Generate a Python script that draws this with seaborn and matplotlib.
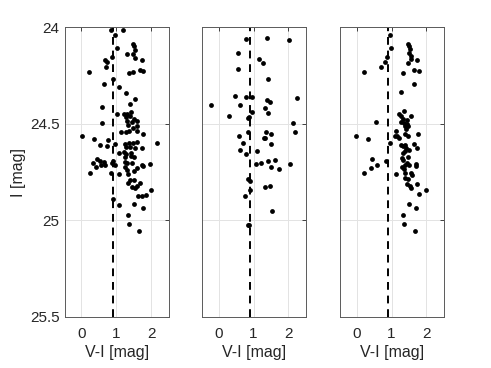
import numpy as np
import pandas as pd
import matplotlib
matplotlib.use("Agg")
import matplotlib.pyplot as plt
import seaborn as sns

# === colour (V-I) and magnitude (I) per panel ===
p1_vi = [0.86, 1.18, 0.97, 1.01, 1.48, 1.50, 1.54, 1.48, 1.30, 1.53, 0.88, 0.67, 0.74, 0.70, 0.22,
         1.36, 1.47, 1.73, 1.78, 1.69, 0.92, 0.65, 1.07, 1.29, 1.53, 0.59, 1.38, 1.01, 1.21, 1.30,
         1.41, 1.39, 1.28, 1.32, 1.50, 0.59, 1.44, 1.58, 1.34, 1.49, 1.59, 1.36, 1.59, 1.13, 1.27,
         1.77, 0.03, 0.36, 0.75, 0.97, 0.54, 0.73, 1.25, 1.37, 1.48, 1.60, 1.29, 1.38, 1.53, 1.73,
         2.18, 1.08, 1.21, 1.29, 1.43, 1.24, 1.43, 1.51, 0.45, 0.52, 0.64, 0.34, 0.69, 0.88, 0.92,
         0.97, 1.25, 1.30, 1.45, 1.73, 1.76, 1.98, 0.43, 0.57, 0.85, 1.09, 1.24, 1.30, 1.34, 1.50,
         1.58, 1.39, 1.50, 1.69, 1.35, 1.59, 1.53, 1.44, 0.25, 0.90, 1.07, 1.52, 1.85, 1.75, 2.00,
         1.63, 1.78, 1.35, 1.37, 1.66]
p1_i = [24.014, 24.014, 24.043, 24.109, 24.086, 24.100, 24.117, 24.140, 24.140, 24.160, 24.155,
        24.169, 24.179, 24.209, 24.231, 24.238, 24.233, 24.172, 24.226, 24.224, 24.269, 24.293,
        24.312, 24.340, 24.372, 24.414, 24.398, 24.452, 24.452, 24.448, 24.440, 24.460, 24.467,
        24.484, 24.474, 24.497, 24.493, 24.488, 24.507, 24.521, 24.510, 24.536, 24.540, 24.543,
        24.545, 24.555, 24.564, 24.579, 24.586, 24.603, 24.612, 24.617, 24.605, 24.600, 24.600,
        24.595, 24.621, 24.622, 24.626, 24.628, 24.600, 24.650, 24.647, 24.655, 24.652, 24.672,
        24.669, 24.674, 24.683, 24.691, 24.700, 24.705, 24.716, 24.703, 24.693, 24.716, 24.700,
        24.703, 24.705, 24.716, 24.717, 24.709, 24.726, 24.714, 24.755, 24.759, 24.724, 24.741,
        24.759, 24.747, 24.729, 24.790, 24.791, 24.805, 24.807, 24.821, 24.833, 24.828, 24.757,
        24.888, 24.921, 24.914, 24.867, 24.876, 24.845, 24.872, 24.938, 24.971, 25.019, 25.055]

p2_vi = [0.78, 1.38, 2.01, 0.56, 1.17, 1.26, 0.54, 1.40, 0.48, 0.78, 0.95, 2.24, -0.22, 0.62,
         1.38, 1.47, 1.34, 1.41, 0.95, 0.29, 0.84, 0.88, 2.12, 2.18, 0.83, 0.57, 1.37, 1.49,
         1.29, 1.34, 1.49, 0.71, 0.62, 0.79, 1.09, 1.07, 1.22, 1.41, 1.62, 1.51, 1.73, 2.05,
         0.83, 0.90, 0.90, 0.76, 1.32, 1.47, 1.54, 0.84, 0.88]
p2_i = [24.064, 24.057, 24.066, 24.136, 24.164, 24.186, 24.219, 24.269, 24.359, 24.364, 24.362,
        24.366, 24.405, 24.405, 24.379, 24.388, 24.419, 24.447, 24.438, 24.460, 24.472, 24.466,
        24.497, 24.541, 24.543, 24.564, 24.541, 24.552, 24.574, 24.574, 24.603, 24.602, 24.638,
        24.655, 24.640, 24.709, 24.703, 24.693, 24.688, 24.722, 24.733, 24.709, 24.784, 24.797,
        24.845, 24.876, 24.829, 24.824, 24.952, 25.022, 25.026]

p3_vi = [0.95, 0.99, 1.46, 1.50, 1.54, 1.50, 1.56, 1.57, 1.72, 1.47, 0.87, 0.80, 0.70, 1.65,
         1.79, 1.34, 0.21, 1.63, 1.27, 1.35, 1.21, 1.28, 1.56, 1.32, 1.44, 1.27, 1.37, 1.44,
         0.56, 1.38, 1.47, 1.13, 1.41, 1.16, 1.11, 1.22, 1.40, 1.46, 1.75, -0.02, 0.33, 0.96,
         1.26, 1.38, 1.32, 1.63, 1.73, 1.41, 1.38, 1.49, 1.33, 1.29, 1.46, 1.34, 1.44, 1.31,
         1.40, 1.50, 1.69, 1.71, 1.35, 1.40, 1.57, 1.59, 0.43, 0.57, 0.42, 0.22, 1.12, 0.85,
         1.38, 1.47, 1.43, 1.52, 1.57, 1.72, 2.00, 1.79, 1.51, 1.70, 1.33, 1.37, 1.66]
p3_i = [24.043, 24.107, 24.086, 24.100, 24.114, 24.134, 24.148, 24.164, 24.172, 24.186, 24.155,
        24.179, 24.205, 24.224, 24.226, 24.238, 24.231, 24.293, 24.338, 24.436, 24.452, 24.462,
        24.460, 24.476, 24.479, 24.490, 24.497, 24.500, 24.493, 24.510, 24.514, 24.538, 24.528,
        24.566, 24.562, 24.574, 24.552, 24.566, 24.553, 24.564, 24.578, 24.602, 24.612, 24.609,
        24.617, 24.603, 24.626, 24.628, 24.643, 24.638, 24.652, 24.676, 24.672, 24.686, 24.703,
        24.724, 24.716, 24.712, 24.710, 24.717, 24.736, 24.755, 24.753, 24.764, 24.683, 24.716,
        24.728, 24.755, 24.759, 24.693, 24.781, 24.784, 24.810, 24.821, 24.834, 24.810, 24.845,
        24.864, 24.914, 24.936, 24.971, 25.019, 25.053]

vi_cut = 0.9
x_ticks = [0, 1, 2]
y_ticks = [24, 24.5, 25, 25.5]
y_ticklabels = ["24", "24.5", "25", "25.5"]

panels = [(p1_vi, p1_i), (p2_vi, p2_i), (p3_vi, p3_i)]

sns.set_style("white")
plt.rcParams["font.family"] = ["Liberation Sans", "DejaVu Sans"]

fig = plt.figure(figsize=(4.91, 3.68), dpi=100)
lefts = [0.1324, 0.4120, 0.6930]
ink = "#262626"

for k, (vi, imag) in enumerate(panels):
    ax = fig.add_axes([lefts[k], 0.1386, 0.211, 0.788])
    df = pd.DataFrame({"vi": vi, "i": imag})
    sns.scatterplot(data=df, x="vi", y="i", ax=ax, color="black", s=12,
                    linewidth=0, zorder=3)
    ax.axvline(vi_cut, color="black", linestyle=(0, (4, 3)), linewidth=1.4, zorder=2)

    ax.set_xlim(-0.47, 2.5)
    ax.set_ylim(25.5, 24)
    ax.set_xticks(x_ticks)
    ax.set_yticks(y_ticks)
    ax.grid(True, color="#e3e3e3", linewidth=0.7, zorder=0)
    ax.set_axisbelow(True)
    ax.tick_params(direction="in", length=3, width=0.6, colors=ink,
                   labelsize=11, top=True, right=True)
    ax.tick_params(axis="x", pad=7)
    ax.tick_params(axis="y", pad=4)
    for sp in ax.spines.values():
        sp.set_color("#5a5a5a")
        sp.set_linewidth(0.7)
    ax.set_xlabel("V-I [mag]", fontsize=11.5, color=ink, labelpad=3)
    if k == 0:
        ax.set_yticklabels(y_ticklabels)
        ax.set_ylabel("I [mag]", fontsize=11.5, color=ink, labelpad=3)
    else:
        ax.set_yticklabels([])
        ax.set_ylabel("")

fig.savefig("out.png", dpi=100)
